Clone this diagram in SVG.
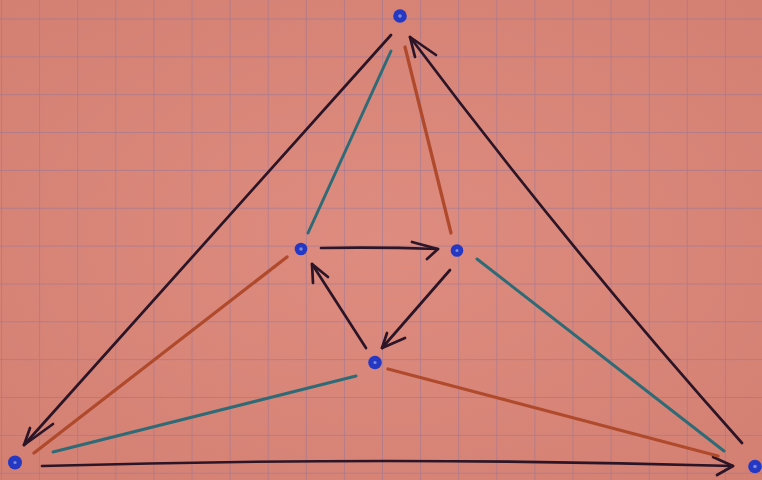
<svg xmlns="http://www.w3.org/2000/svg" width="762" height="480" viewBox="0 0 762 480">
<defs>
<pattern id="grid" x="1" y="18.5" width="38.1" height="37.85" patternUnits="userSpaceOnUse">
<path d="M0 0 H38.1 M0 0 V37.85" fill="none" stroke="#8572a0" stroke-width="1.4" stroke-opacity="0.6"/>
</pattern>
<radialGradient id="bg" cx="50%" cy="50%" r="70%">
<stop offset="0" stop-color="#de8c7f"/>
<stop offset="1" stop-color="#d38073"/>
</radialGradient>
</defs>
<style>
.dark{fill:none;stroke:#2b1526;stroke-width:2.7;stroke-linecap:round;stroke-linejoin:round}
.teal{fill:none;stroke:#2f6b76;stroke-width:3;stroke-linecap:round}
.rust{fill:none;stroke:#b04a2c;stroke-width:3.3;stroke-linecap:round}
.dot{fill:#2538c4}
.hi{fill:#7b8bd6}
</style>
<rect width="762" height="480" fill="url(#bg)"/>
<rect width="762" height="480" fill="url(#grid)"/>
<g id="connectors">
<path class="dark" d="M391 35 L24 445"/>
<polyline class="dark" points="53,424 24,445 30,428"/>
<path class="dark" d="M742 443 Q568 248 410 37"/>
<polyline class="dark" points="415,57 410,37 436,55"/>
<path class="dark" d="M42 466 Q390 456 733 466"/>
<polyline class="dark" points="713,457 733,466 717,475"/>
<path class="dark" d="M321 248 Q380 247 438 249"/>
<polyline class="dark" points="412,242 438,249 427,259"/>
<path class="dark" d="M450 270 L382 348"/>
<polyline class="dark" points="387,333 382,348 405,338"/>
<path class="dark" d="M366 348 L312 264"/>
<polyline class="dark" points="313,283 312,264 328,277"/>
<path class="teal" d="M308 233 L391 51"/>
<path class="teal" d="M477 259 L724 451"/>
<path class="teal" d="M356 376 L53 452"/>
<path class="rust" d="M451 233 L405 47"/>
<path class="rust" d="M388 369 L718 456"/>
<path class="rust" d="M287 257 L34 453"/>
</g>
<g id="node-top"><circle class="dot" cx="400" cy="16" r="6.8"/><circle class="hi" cx="400" cy="16" r="1.8"/></g>
<g id="node-left-mid"><circle class="dot" cx="301" cy="249" r="6.3"/><circle class="hi" cx="301" cy="249" r="1.7"/></g>
<g id="node-right-mid"><circle class="dot" cx="457" cy="250.5" r="6.3"/><circle class="hi" cx="457" cy="250.5" r="1.5"/></g>
<g id="node-bottom-mid"><circle class="dot" cx="375" cy="362.5" r="6.8"/><circle class="hi" cx="375" cy="362.5" r="1.6"/></g>
<g id="node-bottom-left"><circle class="dot" cx="15" cy="462.5" r="7"/><circle class="hi" cx="15" cy="462.5" r="1.6"/></g>
<g id="node-bottom-right"><circle class="dot" cx="755" cy="466.5" r="6.8"/><circle class="hi" cx="755" cy="466.5" r="1.8"/></g>
</svg>
